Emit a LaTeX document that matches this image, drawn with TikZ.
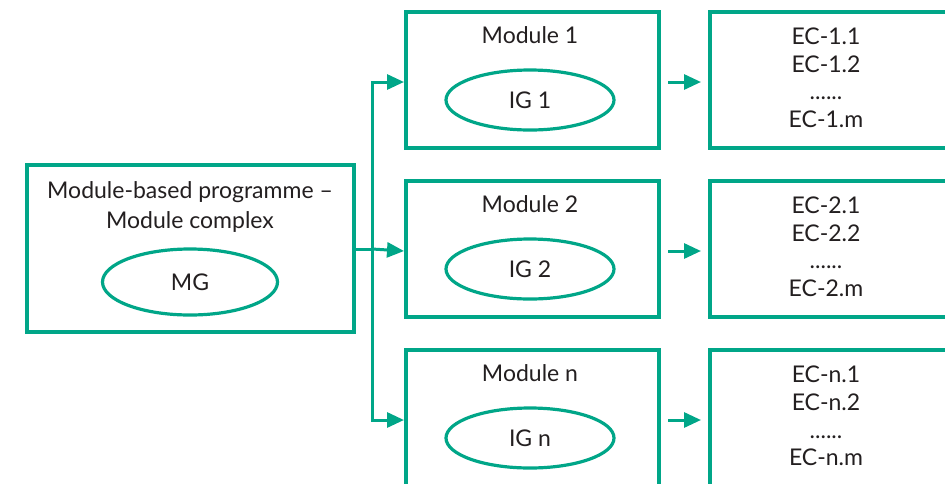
\documentclass[tikz,border=0pt]{standalone}
\usepackage{fontspec}
\setmainfont{Lato}
\usetikzlibrary{arrows.meta,shapes.geometric}
\definecolor{teal1}{RGB}{0,166,136}
\definecolor{txt}{RGB}{35,31,32}
\begin{document}
\begin{tikzpicture}[x=1pt,y=-1pt,
  box/.style={draw=teal1,line width=3.5pt,fill=white},
  oval/.style={draw=teal1,line width=3.2pt,ellipse,minimum width=168pt,minimum height=60pt,inner sep=0pt,font=\fontsize{23}{27.5}\selectfont,text=txt},
  lbl/.style={font=\fontsize{23}{27.5}\selectfont,text=txt,align=center,inner sep=0pt},
  conn/.style={draw=teal1,line width=3pt},
  arr/.style={conn,-{Triangle[length=17pt,width=15pt]}}]
\useasboundingbox (0,0) rectangle (945,483);
\clip (0,0) rectangle (945,483);
% left box
\draw[box] (27,165) rectangle (354,332);
\coordinate (L) at (354,249);
\node[lbl] (lt) at (190,207) {Module-based programme --\\[2pt]Module complex};
\node[oval,minimum width=175pt,minimum height=66pt] (mg) at (190,282) {MG};
% module boxes
\foreach \i/\y/\t/\g in {1/12/1/1,2/181/2/2,3/350/n/n}{
  \draw[box] (406,\y) rectangle (659,\y+136);
  \coordinate (m\i) at (406,\y+70);
  \coordinate (mr\i) at (659,\y+70);
  \coordinate (e\i) at (710,\y+70);
  \node[lbl] (mt\i) at (530,\y+23) {Module \t};
  \node[oval] (ig\i) at (530,\y+88) {IG \g};
  \draw[box] (710,\y) rectangle (960,\y+136);
  \node[lbl,align=center] (ec\i) at (826,\y+66) {EC-\g.1\\[0pt]EC-\g.2\\[0pt]......\\[0pt]EC-\g.m};
}
% connectors
\coordinate (T) at (372,249);
\draw[conn] (L) -- (T);
\draw[arr] (T) |- ([xshift=-2pt]m1);
\draw[arr] (T) -- ([xshift=-2pt]m2);
\draw[arr] (T) |- ([xshift=-2pt]m3);
\foreach \i in {1,2,3}{
  \draw[arr] ([xshift=9pt]mr\i) -- ([xshift=-9pt]e\i);
}
\end{tikzpicture}
\end{document}
